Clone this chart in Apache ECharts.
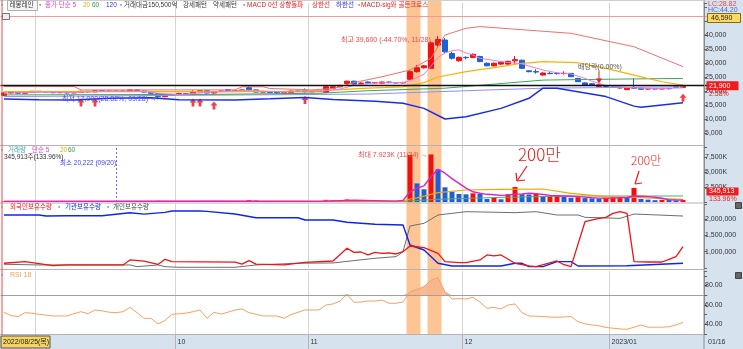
<!DOCTYPE html>
<html><head><meta charset="utf-8">
<script src="https://cdn.jsdelivr.net/npm/echarts@6/dist/echarts.min.js"></script>
<style>html,body{margin:0;padding:0;background:#fff;overflow:hidden}#c{width:743px;height:349px}</style>
</head><body><div id="c"></div>
<script>
// ---------- DATA ----------
const dates = ['2022-08-25','2022-08-26','2022-08-29','2022-08-30','2022-08-31',
'2022-09-01','2022-09-02','2022-09-05','2022-09-06','2022-09-07','2022-09-08','2022-09-13','2022-09-14','2022-09-15','2022-09-16','2022-09-19','2022-09-20','2022-09-21','2022-09-22','2022-09-23','2022-09-26','2022-09-27','2022-09-28','2022-09-29','2022-09-30',
'2022-10-04','2022-10-05','2022-10-06','2022-10-07','2022-10-11','2022-10-12','2022-10-13','2022-10-14','2022-10-17','2022-10-18','2022-10-19','2022-10-20','2022-10-21','2022-10-24','2022-10-25','2022-10-26','2022-10-27','2022-10-28','2022-10-31',
'2022-11-01','2022-11-02','2022-11-03','2022-11-04','2022-11-07','2022-11-08','2022-11-09','2022-11-10','2022-11-11','2022-11-14','2022-11-15','2022-11-16','2022-11-17','2022-11-18','2022-11-21','2022-11-22','2022-11-23','2022-11-24','2022-11-25','2022-11-28','2022-11-29','2022-11-30',
'2022-12-01','2022-12-02','2022-12-05','2022-12-06','2022-12-07','2022-12-08','2022-12-09','2022-12-12','2022-12-13','2022-12-14','2022-12-15','2022-12-16','2022-12-19','2022-12-20','2022-12-21','2022-12-22','2022-12-23','2022-12-26','2022-12-27','2022-12-28','2022-12-29',
'2023-01-02','2023-01-03','2023-01-04','2023-01-05','2023-01-06','2023-01-09','2023-01-10','2023-01-11','2023-01-12','2023-01-13','2023-01-16'];

// [open, close, low, high]
const candles = [
[18400,19300,18200,19500],[19300,19600,19100,19800],[19600,19200,19000,19700],[19200,19500,19100,19700],[19500,19900,19300,20000],
[19900,19700,19500,20000],[19700,19600,19400,19900],[19600,19400,19200,19700],[19400,19500,19200,19700],[19500,19300,19100,19600],
[19300,19500,19200,19700],[19500,19900,19400,20100],[19900,19700,19500,20000],[19700,20100,19600,20300],[20100,19900,19700,20200],
[19900,20000,19800,20200],[20000,19900,19700,20100],[19900,20000,19800,20200],[19800,20400,19700,20600],[20400,20000,19900,20600],
[20000,19600,19400,20100],[19600,19200,19000,19700],[19100,18000,17000,19200],[18000,18500,17800,18700],[18400,18800,18300,19000],
[18800,19100,18700,19300],[19100,19000,18800,19200],[19000,19700,18900,20300],[19700,20100,19600,20300],[20100,19300,19100,20200],
[19300,19800,19000,20000],[19800,20000,19700,20200],[20500,20100,19900,20600],[20100,20200,20000,20300],[20200,20400,20100,20600],
[21200,20400,20200,22100],[20400,19600,19400,20500],[19600,19700,19500,19900],[19700,19500,19300,19800],[19500,19300,19100,19600],
[19300,19400,19200,19600],[19400,20000,19300,20200],[20000,19900,19700,20200],[20300,19700,19500,20900],[19700,19800,19600,20000],
[19800,20200,19700,20400],[19500,21500,19400,21700],[21000,21500,20900,21700],[21500,22000,21300,22200],[22700,23500,22500,23700],
[23500,22500,22300,23700],[22700,22800,22500,23100],[23200,22900,22700,23400],[22900,23000,22700,23200],[22800,23200,22600,23400],
[23200,23000,22800,23400],[23000,22900,22700,23200],[22900,23000,22700,23300],[24200,26900,24000,27500],[26900,28300,26600,29300],
[28300,29000,28000,29300],[28100,37200,27900,37700],[36400,38400,35800,39600],[38200,34000,33500,38900],[33400,31700,31200,34000],
[30800,32000,30500,32300],[32000,31900,31300,32400],[32000,33100,31800,33400],[32300,30500,30300,32600],[29900,29000,28800,30200],
[29000,29900,28800,30200],[29600,30300,29300,30600],[29600,30600,29400,30800],[30800,31200,29400,32500],[31000,28100,27900,31200],
[27200,26900,26700,27400],[26900,26800,26200,27800],[25700,26400,25500,26700],[26300,26200,26000,26800],[26300,26200,25900,26800],
[26200,26300,25900,27000],[26300,25100,25000,26400],[24500,23300,23200,24700],[22900,22100,22000,23100],[22600,22000,21900,22800],
[21600,22200,21500,22400],[21600,21500,21300,21800],[21400,21300,21100,21600],[21200,21100,20800,21400],[20500,21000,20300,21200],
[21200,21000,20800,24500],[21000,20600,20500,21200],[20700,20800,20500,21000],[20900,20700,20500,21100],[20700,20900,20600,21100],
[20900,20800,20600,21100],[21600,21350,21000,21700],[21300,21900,21100,22000]
];

// indicator lines: [index, value]
const ma5 = [[0,19200],[5,19600],[10,19500],[15,19900],[20,19900],[22,19200],[25,18700],[30,19700],[35,20300],[40,19600],[45,19800],[48,20700],[50,22000],[53,22900],[57,23000],[58,23700],[59,24800],[60,26000],[61,28900],[62,32000],[63,33600],[64,34400],[65,34700],[66,33600],[67,32800],[68,31700],[70,30900],[72,30200],[74,29700],[75,28900],[77,27500],[79,26500],[81,26100],[82,25300],[83,24500],[84,23500],[85,22700],[86,22000],[88,21500],[90,21100],[93,20850],[97,21100]];
const ma20 = [[0,19800],[20,19900],[30,19700],[40,19900],[47,20300],[52,21000],[57,21500],[60,23000],[62,25000],[66,26900],[71,28700],[74,29900],[77,30500],[82,30100],[86,28100],[90,25700],[94,23300],[97,22100]];
const ma60 = [[0,18600],[30,18800],[45,19200],[52,20100],[63,21000],[77,23900],[86,24200],[97,24500]];
const ma120 = [[0,18000],[52,18900],[66,20100],[77,21000],[97,21500]];
const bbUpper = [[0,21600],[10,21600],[11,20400],[33,20400],[34,21500],[37,21500],[38,20900],[44,20400],[47,20900],[50,23000],[54,25100],[58,27500],[61,31700],[63,40000],[66,42400],[68,43000],[81,40600],[90,35800],[97,28700]];
const bbLower = [[0,17100],[5,16900],[10,16800],[15,17400],[21,17600],[25,16900],[33,16800],[38,17200],[43,17700],[47,17000],[53,16300],[57,15600],[60,13800],[63,10000],[66,10800],[71,13800],[75,17400],[77,21000],[79,21000],[86,18000],[90,14600],[91,14200],[97,15800]];
const buySignals = [[11,15900],[13,15900],[27,15900],[28,15900],[30,14800],[43,16800],[97,17560]];
const upperLimit = 46590, lastClose = 21900;

// volume, thousands of shares
const volumes = [95,120,80,70,110, 90,60,55,75,50, 85,130,70,95,60, 45,20.222,40,160,110, 70,90,210,120,80, 65,100,150,140,90, 180,70,110,60,50, 330,260,90,70,60, 55,120,80,160,70, 95,360,300,250,420, 280,150,120,90,160, 110,80,200,7830,3100, 2120,7923,5450,2450,1720, 1330,1280,1450,1330,500, 700,450,1300,2500,1300, 1250,1350,950,1000,1150, 850,700,800,650,600, 550,700,800,850,700, 2350,500,400,300,350, 340,258.22,345.913];
const volMa5 = [[0,100],[30,120],[45,110],[50,300],[56,150],[57,250],[58,1700],[59,2300],[60,2700],[61,4200],[62,5450],[63,4800],[64,3900],[65,3100],[66,2300],[67,1700],[68,1450],[69,1280],[70,1200],[71,1100],[72,1150],[73,1300],[74,1350],[75,1450],[76,1400],[77,1250],[78,1100],[79,1050],[80,1000],[81,950],[82,900],[83,820],[84,720],[85,650],[86,620],[87,640],[88,700],[89,760],[90,1000],[91,950],[92,900],[93,800],[94,620],[95,360],[96,330],[97,320]];
const volMa20 = [[0,100],[57,130],[58,500],[59,700],[62,1550],[66,2000],[71,2120],[77,2170],[81,1450],[86,890],[90,780],[97,450]];
const volMa60 = [[0,90],[57,110],[62,450],[71,780],[81,1000],[97,1000]];
const minVolIdx = 16;

// holdings (shares)
const foreignHold = [[0,645000],[3,694000],[7,572000],[9,593000],[17,593000],[18,746000],[20,710000],[22,610000],[23,767000],[24,694000],[33,680000],[34,620000],[35,725000],[36,620000],[40,593000],[43,675000],[47,715000],[49,1103000],[50,980000],[51,990000],[52,899000],[53,980000],[54,950000],[55,960000],[56,929000],[57,1000000],[58,1174000],[60,1123000],[62,950000],[63,694000],[65,664000],[66,664000],[68,746000],[69,899000],[70,870000],[71,899000],[73,645000],[75,562000],[76,541000],[79,715000],[80,600000],[81,541000],[83,1918000],[85,2020000],[86,2050000],[87,2174000],[88,2225000],[89,2174000],[90,694000],[92,684000],[94,684000],[95,767000],[96,848000],[97,1155000]];
const instHold = [[0,2123000],[5,2123000],[6,2092000],[9,2100000],[14,2100000],[15,2123000],[18,2193000],[20,2150000],[23,2205000],[24,2245000],[28,2245000],[29,2235000],[33,2153000],[36,2040000],[42,2040000],[43,1970000],[47,1970000],[49,1900000],[53,1840000],[57,1817000],[58,1205000],[60,1052000],[62,645000],[64,562000],[71,562000],[73,645000],[74,645000],[75,541000],[77,541000],[79,694000],[81,694000],[82,562000],[89,570000],[97,645000]];
const indivHold = [[0,614000],[5,593000],[18,593000],[19,541000],[22,593000],[23,541000],[25,522000],[33,522000],[36,593000],[42,645000],[47,655000],[53,798000],[56,848000],[57,1000000],[58,1787000],[60,1868000],[62,2123000],[66,2225000],[73,2194000],[76,2225000],[79,2123000],[82,2123000],[83,2052000],[88,2020000],[90,2153000],[97,2092000]];

// RSI 18
const rsi = [52.4,49,48,52,51.5, 50.3,49.5,48.6,48.6,48.6, 51,53,51,54.8,54, 52.5,52,53,57.5,52, 46.2,46.2,40.3,44,50.3, 50.8,51.5,53,54.8,46.2, 52.4,50.5,52.5,54.8,55.8, 52,50.3,48.6,48.6,48.6, 46.2,50,52.4,54.8,54.8, 54.8,59.9,61,64,71, 62.7,63,64,64,65, 61.7,61.7,63,73.7,76, 78.9,85.5,88,73.7,66.1, 66.5,66.1,67.9,63,56.5, 57.5,55.8,59.9,61,52, 48.6,48.3,48,47.5,47.3, 47.6,48,42.7,40.5,39.3, 38.5,36.8,36,35.2,34.8, 37,39.3,37,37,37, 37.5,39.3,42];
const rsiLevel = 70;

const monthGridDates = ['2022-09-01','2022-10-04','2022-11-01','2022-12-01','2023-01-02'];
const monthLabels = [['2022-10-04','10'],['2022-11-01','11'],['2022-12-01','12'],['2023-01-02','2023/01']];
const highlightRanges = [[58,59],[61,62]];
const priceTicks = [5000,10000,15000,20000,25000,30000,35000,40000];
const volTicks = [2500,5000,7500];
const holdTicks = [1000000,1500000,2000000];
const rsiTicks = [40,60,80];

// ---------- CHART ----------
const FONT = "'Liberation Sans','Noto Sans CJK KR',sans-serif";
const UP = '#f01010', DN = '#1d5fd4';
const cats = dates.concat(['', ' ', '  ']);
const monthIdx = monthGridDates.map(d => dates.indexOf(d));
const chart = echarts.init(document.getElementById('c'));
const GL = 0.5, GR = 35.5;
const grids = [
  {left:GL, right:GR, top:3, height:144},
  {left:GL, right:GR, top:147, height:55},
  {left:GL, right:GR, top:204, height:64},
  {left:GL, right:GR, top:271, height:63}
];
function xAx(i){
  return {type:'category', gridIndex:i, data:cats, boundaryGap:true,
    axisLine:{show:false}, axisTick:{show:false}, axisLabel:{show:false},
    splitLine:{show:true, interval:(idx)=>monthIdx.includes(idx), lineStyle:{color:'#d6d6d6', width:1}}};
}
function yAx(i, min, max, interval, ticks, fmt){
  return {type:'value', gridIndex:i, position:'right', offset:-3.5, min, max, interval, z:10,
    axisLine:{show:true, lineStyle:{color:'#8c8c8c'}},
    axisTick:{show:true, length:3, lineStyle:{color:'#666'}},
    splitLine:{show:false},
    axisLabel:{fontSize:7, color:'#333', margin:1, fontFamily:FONT, formatter:v=>ticks.includes(v)?fmt(v):''}};
}
const fmtN = v => v.toLocaleString('en-US');
const line = (xi, data, color, width, extra) => Object.assign({type:'line', xAxisIndex:xi, yAxisIndex:xi, data, symbol:'none', silent:true, lineStyle:{color, width}}, extra||{});

const option = {
  animation:false,
  backgroundColor:'#fff',
  grid: grids,
  xAxis: [0,1,2,3].map(xAx),
  yAxis: [
    yAx(0, 0, 51430, 5000, priceTicks, fmtN),
    yAx(1, 0, 9166.7, 2500, volTicks, v=>fmtN(v)+'K'),
    yAx(2, 500000, 2460000, 500000, holdTicks, fmtN),
    yAx(3, 30, 95, 10, rsiTicks, v=>v.toFixed(2))
  ],
  series: [
    {type:'candlestick', xAxisIndex:0, yAxisIndex:0, data:candles, barWidth:5, silent:true,
      itemStyle:{color:UP, color0:DN, borderColor:UP, borderColor0:DN, borderWidth:1},
      markLine:{silent:true, symbol:['none','none'], label:{show:false},
        data:[{yAxis:upperLimit, lineStyle:{color:'#f29a9a', width:1, type:'solid'}},
              {yAxis:lastClose, lineStyle:{color:'#111', width:1.3, type:'solid'}}]}},
    line(0, ma120, '#8f8ff5', 1),
    line(0, ma60, '#3aa85c', 1),
    line(0, ma20, '#f5b400', 1.2),
    line(0, bbUpper, '#f07070', 1),
    line(0, bbLower, '#1a2ee8', 1.5),
    line(0, ma5, '#ee7be0', 1),
    {type:'scatter', xAxisIndex:0, yAxisIndex:0, data:buySignals, silent:true,
      symbol:'path://M5 0 L10 5 L7 5 L7 10 L3 10 L3 5 L0 5 Z', symbolSize:[7,8], itemStyle:{color:'#e8101a'}},
    {type:'bar', xAxisIndex:1, yAxisIndex:1, barWidth:5, silent:true,
      data: volumes.map((v,i)=>({value:v, itemStyle:{color:(i>0 && v<=volumes[i-1])?DN:UP}})),
      markLine:{silent:true, symbol:['none','none'], label:{show:false},
        data:[{xAxis:cats[minVolIdx], lineStyle:{color:'#6a6af0', type:[2,2], width:1}}]}},
    line(1, volMa60, '#4cb464', 1),
    line(1, volMa20, '#f0a800', 1.2),
    line(1, volMa5, '#e020c8', 1.4),
    line(2, indivHold, '#6e6e6e', 1),
    line(2, instHold, '#1024f0', 1.4),
    line(2, foreignHold, '#f01414', 1.3),
    line(3, rsi.map(v=>Math.max(v, rsiLevel)), '#f5a060', 0, {areaStyle:{origin:rsiLevel, color:'#f6b48a', opacity:0.9}, z:1}),
    line(3, rsi, '#f6a262', 1, {markLine:{silent:true, symbol:['none','none'], label:{show:false}, data:[{yAxis:rsiLevel, lineStyle:{color:'#a0a0a0', width:1, type:'solid'}}]}})
  ]
};
chart.setOption(option);

// ---------- overlays (positions derived from the library's scales) ----------
const px = i => chart.convertToPixel({xAxisIndex:0}, i);
const py = v => chart.convertToPixel({yAxisIndex:0}, v);
const bw = px(1) - px(0);
const G = [];
const T = (x, y, text, fill, size, extra) => G.push(Object.assign({type:'text', x, y, z:30,
  style:Object.assign({text, fill, fontSize:size||7, fontFamily:FONT, verticalAlign:'middle', align:'left'}, extra||{})}));
const R = (x, y, w, h, fill, stroke, z) => G.push({type:'rect', z:(z===undefined?20:z), shape:{x, y, width:w, height:h}, style:{fill, stroke:stroke||null, lineWidth:1}});
const L = (x1, y1, x2, y2, stroke, w, z) => G.push({type:'line', z:(z===undefined?20:z), shape:{x1, y1, x2, y2}, style:{stroke, lineWidth:w||1}});

// highlight bands
highlightRanges.forEach(([a,b]) => {
  const x0 = px(a) - bw/2, x1 = px(b) + bw/2;
  R(x0, 0, x1 - x0, 334, '#fdc594', null, -5);
});
// right panel + date bar
R(704, 0, 39, 349, '#d7e2ef', null, 3);
L(704, 0, 704, 349, '#8c8c8c', 1, 4);
R(0, 335, 704, 14, '#d7e2ef', null, -10);
// panel separators
[145.5, 203, 269.5, 334.5].forEach(y => L(0, y, 704, y, '#b4b4b4', 1, 4));
L(0, 0.5, 704, 0.5, '#cfcfcf', 1, 4);
// cursor line
L(2, 0, 2, 335, '#f04848', 1, 6);
// month labels in date bar
monthIdx.forEach(i => L(px(i) - bw/2, 335, px(i) - bw/2, 349, '#b4b4b4', 1, 4));
monthLabels.forEach(([d, lab]) => T(px(dates.indexOf(d)) - bw/2 + 2, 342, lab, '#333', 7));
R(1, 336, 49, 12, '#f6d463', '#555', 20);
T(3, 342, '2022/08/25(목)', '#222', 7);
T(708, 342, '01/16', '#333', 7);

// header
const HF = 6.5;
const hdr = [[1,'▪','#999'],[39,'▪','#999'],[45,'종가 단순 5','#e040d8'],[83,'20','#e8b000'],[92,'60','#2ea050'],[106,'120','#3434e0'],
  [120,'▪','#999'],[124,'거래대금150,500억','#333'],[183,'강세패턴','#333'],[213,'약세패턴','#333'],[243,'▪','#999'],
  [247,'MACD 0선 상향돌파','#e82020'],[312,'상한선','#e82020'],[336,'하한선','#2a2ae0'],[358,'▪','#999'],[361,'MACD-sig와 골든크로스','#e82020']];
R(7.5, 0.5, 30, 10, '#f4f4f4', '#b0b0b0', 19);
T(9.5, 5.5, '레몽레인', '#333', HF);
hdr.forEach(([x,t,c]) => T(x, 5.5, t, c, HF));
R(2.5, 13.5, 7, 6, '#eee', '#777', 19);
// top-right info
T(708, 4, 'LC:28.82', '#e04848', 7);
T(708, 10.5, 'HC:44.20', '#4a6ad0', 7);
R(707.5, 13.5, 33, 9, '#ffd966', '#8a6d00', 21);
T(711, 18, '46,590', '#222', 7);
// price annotations
T(341, 40, '최고 39,600 (-44.70%, 11/28) →', '#f04848', 7);
T(62, 99.5, '최저 17,000(28.82%, 09/28) →', '#4848f8', 7);
T(578, 67, '배당락(0.00%)', '#555', 7);
const dx = px(85), dy = py(22700);
L(dx, 71, dx, dy - 4, '#e82020', 1);
G.push({type:'polygon', z:20, shape:{points:[[dx-3, dy-5],[dx+3, dy-5],[dx, dy]]}, style:{fill:'#e82020'}});
// last price box
const ly = py(lastClose);
R(706.5, ly - 4.5, 32, 9, '#ee1c1c', null, 21);
T(709, ly, '21,900', '#fff', 7);
T(709, ly + 8, '2.58%', '#ee1c1c', 7);
// volume labels
T(1, 150.5, '▪', '#999', HF);
T(8, 150.5, '거래량', '#3aa8a8', HF);
T(32, 150.5, '단순 5', '#e040d8', HF);
T(60, 150.5, '20', '#e8b000', HF);
T(68, 150.5, '60', '#2ea050', HF);
T(4, 157, '345,913주(133.96%)', '#333', HF);
T(60, 163.5, '최소 20,222 (09/20)', '#4040f0', HF);
T(358, 155.5, '최대 7.923K (11/24) →', '#f04848', 7);
R(706.5, 187.5, 32, 8, '#ee1c1c', null, 21);
T(709, 191.5, '345,913', '#fff', 7);
T(709, 199, '133.96%', '#ee1c1c', 7);
// handwritten notes
T(518, 155, '200만', '#e81c1c', 17, {fontFamily:"'Noto Sans CJK KR',sans-serif", fontWeight:300});
L(527, 166, 517, 181, '#e81c1c', 1.2);
L(517, 181, 516, 173, '#e81c1c', 1.2);
L(517, 181, 525, 180, '#e81c1c', 1.2);
T(631, 160, '200만', '#e81c1c', 12, {fontFamily:"'Noto Sans CJK KR',sans-serif", fontWeight:300});
L(639, 171, 635, 184, '#e81c1c', 1.2);
L(635, 184, 642, 183, '#e81c1c', 1.2);
// holdings legend
T(1, 207.5, '▪', '#999', HF);
T(10, 207.5, '외국인보유수량', '#f01414', HF);
T(58, 207.5, '▪', '#999', HF);
T(65, 207.5, '기관보유수량', '#1024f0', HF);
T(107, 207.5, '▪', '#999', HF);
T(113, 207.5, '개인보유수량', '#444', HF);
// rsi legend
T(1, 275, '▪', '#999', HF);
T(10, 275, 'RSI 18', '#f5a050', 7);
// small icons
R(735.5, 202.5, 6, 6, '#666', '#444', 21);
R(735.5, 272.5, 6, 6, '#666', '#444', 21);
chart.setOption({graphic:{elements:G}});
</script>
</body></html>
